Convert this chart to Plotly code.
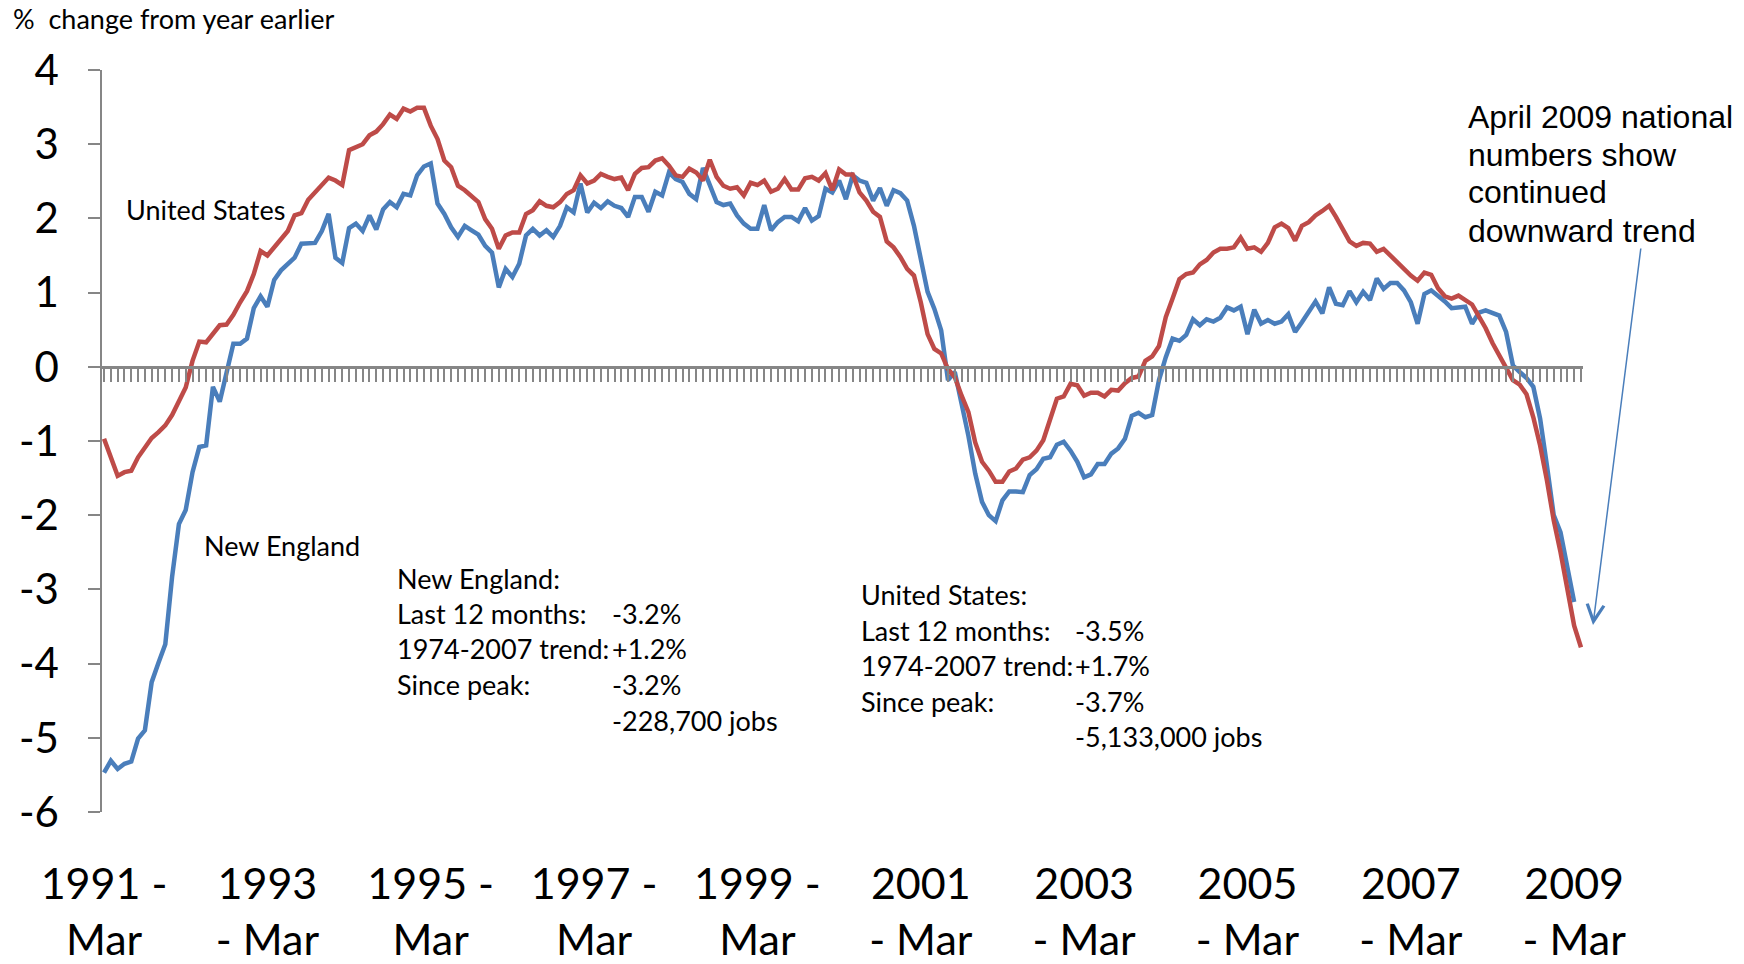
import plotly.graph_objects as go

# ---- data (monthly, % change from year earlier) ----
tick_months = [0, 24, 48, 72, 96, 120, 144, 168, 192, 216]
tick_labels = ["1991 -<br>Mar", "1993<br>- Mar", "1995 -<br>Mar", "1997 -<br>Mar", "1999 -<br>Mar",
               "2001<br>- Mar", "2003<br>- Mar", "2005<br>- Mar", "2007<br>- Mar", "2009<br>- Mar"]

new_england = [
    -5.47, -5.31, -5.42, -5.35, -5.32, -5.01, -4.90, -4.25, -3.99, -3.74,
    -2.83, -2.12, -1.93, -1.42, -1.08, -1.06, -0.27, -0.47, -0.08, 0.31,
    0.31, 0.38, 0.79, 0.95, 0.81, 1.17, 1.30, 1.39, 1.47, 1.66,
    1.67, 1.67, 1.83, 2.06, 1.47, 1.40, 1.87, 1.93, 1.83, 2.04,
    1.85, 2.12, 2.22, 2.15, 2.33, 2.31, 2.58, 2.70, 2.74, 2.20,
    2.06, 1.88, 1.75, 1.90, 1.84, 1.78, 1.63, 1.54, 1.07, 1.32,
    1.21, 1.39, 1.77, 1.86, 1.77, 1.84, 1.75, 1.90, 2.15, 2.08,
    2.47, 2.08, 2.21, 2.14, 2.23, 2.17, 2.14, 2.02, 2.29, 2.29,
    2.09, 2.36, 2.31, 2.62, 2.53, 2.49, 2.33, 2.26, 2.68, 2.44,
    2.22, 2.18, 2.20, 2.04, 1.93, 1.86, 1.86, 2.18, 1.84, 1.95,
    2.02, 2.02, 1.96, 2.14, 1.97, 2.03, 2.40, 2.35, 2.51, 2.26,
    2.58, 2.51, 2.48, 2.24, 2.41, 2.17, 2.38, 2.34, 2.24, 1.90,
    1.46, 1.01, 0.78, 0.49, -0.18, -0.07, -0.50, -0.93, -1.44, -1.82,
    -2.00, -2.08, -1.80, -1.68, -1.68, -1.69, -1.46, -1.38, -1.24, -1.22,
    -1.05, -1.01, -1.13, -1.28, -1.49, -1.45, -1.31, -1.31, -1.17, -1.10,
    -0.97, -0.66, -0.62, -0.68, -0.65, -0.18, 0.13, 0.38, 0.35, 0.43,
    0.64, 0.56, 0.64, 0.61, 0.66, 0.80, 0.76, 0.81, 0.44, 0.77,
    0.58, 0.63, 0.58, 0.61, 0.71, 0.47, 0.60, 0.74, 0.88, 0.72,
    1.07, 0.85, 0.83, 1.02, 0.87, 1.01, 0.90, 1.19, 1.05, 1.13,
    1.13, 1.03, 0.87, 0.58, 0.98, 1.03, 0.96, 0.88, 0.79, 0.80,
    0.81, 0.58, 0.73, 0.76, 0.72, 0.69, 0.47, 0.02, -0.07, -0.15,
    -0.27, -0.70, -1.33, -2.00, -2.23, -2.72, -3.17,
]

united_states = [
    -0.97, -1.22, -1.47, -1.42, -1.40, -1.22, -1.10, -0.96, -0.88, -0.79,
    -0.65, -0.45, -0.28, 0.08, 0.34, 0.33, 0.45, 0.56, 0.57, 0.70,
    0.87, 1.02, 1.25, 1.56, 1.50, 1.61, 1.73, 1.83, 2.04, 2.07,
    2.25, 2.35, 2.46, 2.55, 2.51, 2.45, 2.92, 2.96, 3.00, 3.12,
    3.17, 3.27, 3.40, 3.34, 3.48, 3.44, 3.49, 3.49, 3.25, 3.07,
    2.78, 2.69, 2.44, 2.38, 2.29, 2.22, 1.99, 1.86, 1.59, 1.77,
    1.81, 1.81, 2.06, 2.11, 2.23, 2.17, 2.15, 2.22, 2.33, 2.38,
    2.58, 2.47, 2.51, 2.60, 2.56, 2.53, 2.55, 2.38, 2.60, 2.68,
    2.69, 2.78, 2.81, 2.71, 2.58, 2.56, 2.67, 2.62, 2.51, 2.79,
    2.56, 2.44, 2.40, 2.42, 2.31, 2.48, 2.45, 2.51, 2.36, 2.40,
    2.53, 2.39, 2.39, 2.54, 2.56, 2.51, 2.61, 2.38, 2.66, 2.59,
    2.59, 2.35, 2.24, 2.09, 2.02, 1.69, 1.61, 1.48, 1.32, 1.23,
    0.87, 0.44, 0.24, 0.18, -0.03, -0.14, -0.39, -0.61, -1.02, -1.28,
    -1.40, -1.55, -1.55, -1.41, -1.37, -1.25, -1.22, -1.13, -0.99, -0.70,
    -0.43, -0.40, -0.23, -0.25, -0.39, -0.35, -0.35, -0.40, -0.31, -0.32,
    -0.22, -0.15, -0.13, 0.08, 0.14, 0.28, 0.67, 0.92, 1.18, 1.25,
    1.27, 1.38, 1.44, 1.54, 1.59, 1.59, 1.61, 1.74, 1.59, 1.61,
    1.55, 1.67, 1.88, 1.93, 1.87, 1.70, 1.90, 1.95, 2.04, 2.10,
    2.17, 2.02, 1.85, 1.69, 1.63, 1.67, 1.66, 1.55, 1.59, 1.50,
    1.40, 1.32, 1.23, 1.16, 1.27, 1.24, 1.06, 0.95, 0.92, 0.96,
    0.90, 0.84, 0.68, 0.52, 0.32, 0.15, -0.03, -0.18, -0.24, -0.37,
    -0.68, -1.06, -1.53, -2.07, -2.50, -2.99, -3.49, -3.78,
]

y_ticks = [-6, -5, -4, -3, -2, -1, 0, 1, 2, 3, 4]

ne_stats_labels = ["New England:", "Last 12 months:", "1974-2007 trend:", "Since peak:", ""]
ne_stats_values = ["", "-3.2%", "+1.2%", "-3.2%", "-228,700 jobs"]
us_stats_labels = ["United States:", "Last 12 months:", "1974-2007 trend:", "Since peak:", ""]
us_stats_values = ["", "-3.5%", "+1.7%", "-3.7%", "-5,133,000 jobs"]
note_lines = ["April 2009 national", "numbers show", "continued", "downward trend"]

# ---- figure geometry ----
W, H = 1744, 964
L, R, T, B = 102, 161, 70, 152
PW, PH = W - L - R, H - T - B

def px(xp):
    return (xp - L) / PW

def py(yp):
    return (H - B - yp) / PH

BLUE = "#4a7ebb"
RED = "#be4b48"
GRAY = "#868686"
FONT = "Lato, Carlito, Calibri, sans-serif"

months_ne = list(range(len(new_england)))
months_us = list(range(len(united_states)))

fig = go.Figure()
fig.add_trace(go.Scatter(x=months_ne, y=new_england, mode="lines",
                         line=dict(color=BLUE, width=4.5), name="New England",
                         hoverinfo="skip"))
fig.add_trace(go.Scatter(x=months_us, y=united_states, mode="lines",
                         line=dict(color=RED, width=4.5), name="United States",
                         hoverinfo="skip"))
# invisible trace to anchor the zero-line category axis
fig.add_trace(go.Scatter(x=[0], y=[0], xaxis="x2", yaxis="y", mode="markers",
                         marker=dict(opacity=0), showlegend=False, hoverinfo="skip"))

xr = [-0.3, 217.3]
fig.update_layout(
    width=W, height=H,
    margin=dict(l=L, r=R, t=T, b=B),
    paper_bgcolor="white", plot_bgcolor="white",
    showlegend=False,
    font=dict(family=FONT, color="black"),
    xaxis=dict(range=xr, tickmode="array", tickvals=tick_months, ticktext=tick_labels,
               showgrid=False, zeroline=False, showline=False, ticks="",
               tickfont=dict(family=FONT, size=43, color="black"),
               ticklabelstandoff=43, automargin=False),
    xaxis2=dict(range=xr, overlaying="x", anchor="free", position=0.6, side="bottom",
                showgrid=False, zeroline=False, showline=True, linecolor=GRAY, linewidth=2.5,
                ticks="outside", tickmode="linear", tick0=0, dtick=1, ticklen=13,
                tickwidth=1.6, tickcolor=GRAY, showticklabels=False, automargin=False),
    yaxis=dict(range=[-6, 4], tickmode="array", tickvals=y_ticks,
               ticktext=[str(v) for v in y_ticks],
               showgrid=False, zeroline=False, showline=True, linecolor=GRAY, linewidth=1.5,
               ticks="outside", ticklen=12, tickwidth=1.5, tickcolor=GRAY,
               tickfont=dict(family=FONT, size=42, color="black"),
               ticklabelstandoff=21, automargin=False),
)

ann = []
def text(xp, yp, s, size=27, family=FONT):
    ann.append(dict(xref="paper", yref="paper", x=px(xp), y=py(yp), text=s,
                    showarrow=False, xanchor="left", yanchor="middle",
                    font=dict(family=family, size=size, color="black")))

text(11, 18, "%  change from year earlier", size=27)
text(124, 210, "United States", size=27)
text(202, 545, "New England", size=27)

ne_y = [578, 613, 648, 684, 720]
for yy, lab, val in zip(ne_y, ne_stats_labels, ne_stats_values):
    if lab:
        text(395, yy, lab, size=27)
    if val:
        text(610, yy, val, size=27)

us_y = [594, 630, 665, 701, 736]
for yy, lab, val in zip(us_y, us_stats_labels, us_stats_values):
    if lab:
        text(859, yy, lab, size=27)
    if val:
        text(1073, yy, val, size=27)

note_y = [117, 155, 192, 231]
for yy, s in zip(note_y, note_lines):
    text(1466, yy, s, size=32, family="Liberation Sans, Arial, sans-serif")

# arrow pointing at the continued decline
ann.append(dict(xref="paper", yref="paper", x=px(1593), y=py(625),
                ax=48, ay=-378, showarrow=True, arrowhead=5, arrowsize=2.2,
                arrowwidth=1.5, arrowcolor=BLUE, text=""))

fig.update_layout(annotations=ann)
fig.write_html("out.html", config={"displayModeBar": False},
               post_script="document.body.style.margin='0px';document.body.style.overflow='hidden';")
